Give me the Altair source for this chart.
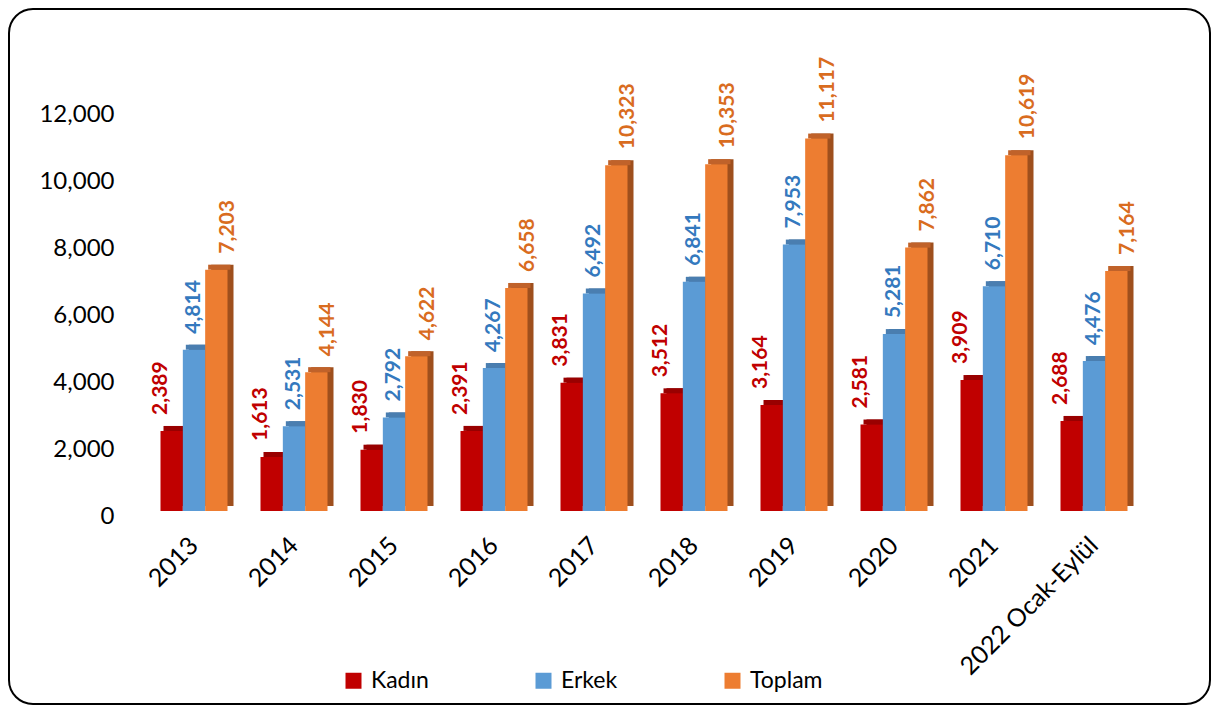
import altair as alt
import pandas as pd

years = ["2013", "2014", "2015", "2016", "2017", "2018", "2019", "2020", "2021", "2022 Ocak-Eylül"]
series = ["Kadın", "Erkek", "Toplam"]
kadin = [2389, 1613, 1830, 2391, 3831, 3512, 3164, 2581, 3909, 2688]
erkek = [4814, 2531, 2792, 4267, 6492, 6841, 7953, 5281, 6710, 4476]
toplam = [7203, 4144, 4622, 6658, 10323, 10353, 11117, 7862, 10619, 7164]
y_ticks = [0, 2000, 4000, 6000, 8000, 10000, 12000]

front_colors = ["#C00000", "#5B9BD5", "#ED7D31"]
top_colors = ["#990000", "#4A7EB0", "#C0622A"]
side_colors = ["#840000", "#3F6D99", "#9E4F1D"]
label_colors = ["#C00000", "#3479BE", "#D96C1F"]

rows = []
for i, yr in enumerate(years):
    for s, vals in zip(series, [kadin, erkek, toplam]):
        rows.append({"year": yr, "series": s, "value": vals[i]})
df = pd.DataFrame(rows)

FONT = "Lato"
W, H = 1000, 402
PL, PT = 136, 101
CW, CH = 1203, 697

x_enc = alt.X("year:N", sort=years, title=None,
              scale=alt.Scale(paddingInner=0.33, paddingOuter=0.165),
              axis=alt.Axis(labelAngle=-45, labelAlign="right", labelBaseline="middle",
                            labelFontSize=25, labelFont=FONT, labelColor="#000000",
                            labelPadding=30, labelLimit=400, labelOverlap=False,
                            domain=False, ticks=False, grid=False))
y_scale = alt.Scale(domain=[0, 12000], nice=False, zero=True)
y_enc = alt.Y("value:Q", scale=y_scale, title=None,
              axis=alt.Axis(values=y_ticks, format=",d", labelFontSize=24, labelFont=FONT,
                            labelColor="#000000", labelPadding=30, labelOffset=5,
                            domain=False, ticks=False, grid=False))


def off(rng):
    return alt.XOffset("series:N", sort=series,
                       scale=alt.Scale(domain=series, range=rng, paddingInner=0, paddingOuter=0))


base = alt.Chart(df)

side = base.mark_bar(yOffset=-5, y2Offset=-5).encode(
    x=x_enc, xOffset=off([6, 73]), y=y_enc, y2=alt.datum(0),
    color=alt.Color("series:N", scale=alt.Scale(domain=series, range=side_colors), legend=None),
)

top = base.mark_bar(yOffset=-5, y2Offset=0).encode(
    x=x_enc, xOffset=off([3, 70]), y=y_enc, y2=alt.Y2("value:Q"),
    color=alt.Color("series:N", scale=alt.Scale(domain=series, range=top_colors), legend=None),
)

front = base.mark_bar().encode(
    x=x_enc, xOffset=off([0, 67]), y=y_enc,
    color=alt.Color("series:N", sort=series,
                    scale=alt.Scale(domain=series, range=front_colors),
                    legend=alt.Legend(title=None, orient="none", direction="horizontal",
                                      columns=3, legendX=198, legendY=560,
                                      symbolType="square", symbolSize=256,
                                      symbolStrokeWidth=0, symbolOpacity=1,
                                      labelFont=FONT, labelFontSize=23, labelColor="#000000",
                                      labelOffset=6, columnPadding=103, padding=0)),
)

labels = base.mark_text(angle=270, align="left", baseline="middle", dx=16,
                        font=FONT, fontSize=21, fontWeight="bold").encode(
    x=x_enc, xOffset=off([0, 67]), y=y_enc,
    text=alt.Text("value:Q", format=",d"),
    color=alt.Color("series:N", scale=alt.Scale(domain=series, range=label_colors), legend=None),
)

frame = alt.Chart(pd.DataFrame({"k": [0]})).mark_rect(
    filled=False, stroke="#000000", strokeWidth=2, cornerRadius=24
).encode(
    x=alt.value(1 - PL), x2=alt.value(CW - 1 - PL),
    y=alt.value(1 - PT), y2=alt.value(CH - 1 - PT),
)

chart = alt.layer(side, top, front, labels, frame).resolve_scale(
    color="independent", xOffset="independent"
).properties(
    width=W, height=H,
    autosize=alt.AutoSizeParams(type="none"),
    padding={"left": PL, "top": PT, "right": CW - PL - W, "bottom": CH - PT - H},
    background="#ffffff",
).configure_view(stroke=None)

chart.save("out.html", embed_options={"renderer": "svg", "actions": False})
